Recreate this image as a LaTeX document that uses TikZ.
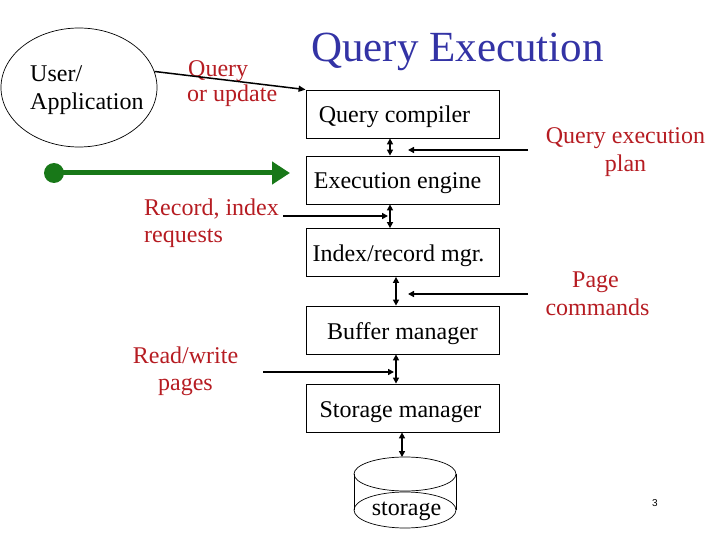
\documentclass[tikz,border=0pt]{standalone}
\usepackage{fontspec}
\setmainfont{Liberation Serif}
\newfontfamily\numfont{Liberation Sans}
\usetikzlibrary{arrows.meta,shapes.geometric}
\definecolor{lblred}{RGB}{182,28,34}
\definecolor{titleblue}{RGB}{51,51,165}
\definecolor{flowgreen}{RGB}{24,120,24}
\begin{document}
\begin{tikzpicture}[x=1pt,y=-1pt,
  every node/.style={font=\fontsize{24}{28}\selectfont},
  box/.style={draw, line width=0.8pt, minimum width=193pt, minimum height=48pt, inner sep=0pt, text height=22pt, text depth=4pt},
  txt/.style={inner sep=0pt, anchor=base},
  lbl/.style={txt, text=lblred},
  link/.style={line width=1.8pt, -{Triangle[length=6pt,width=6pt]}},
  dlink/.style={line width=1.8pt, {Triangle[length=6pt,width=6pt]}-{Triangle[length=6pt,width=6pt]}},
]
\useasboundingbox (0,0) rectangle (720,540);
% title
\node[txt, anchor=base west, text=titleblue, font=\fontsize{43}{50}\selectfont] (title) at (311,62) {Query Execution};
% user
\node[draw, ellipse, line width=0.7pt, minimum width=156pt, minimum height=119pt, inner sep=0pt] (user) at (79,87.5) {};
\node[txt, anchor=base west] (userA) at (30,82) {User/};
\node[txt, anchor=base west] (userB) at (30,110) {Application};
% boxes
\node[box] (qc) at (402.5,114) {Query compiler\hspace*{16pt}};
\node[box] (ee) at (402.5,180) {Execution engine\hspace*{10pt}};
\node[box] (ir) at (402.5,252.5) {Index/record mgr.\hspace*{8pt}};
\node[box] (bm) at (402.5,330) {Buffer manager};
\node[box] (sm) at (402.5,408) {Storage manager\hspace*{4pt}};
% labels
\node[lbl, anchor=base west] (qu1) at (188,77) {Query};
\node[lbl, anchor=base west] (qu2) at (187,102) {or update};
\node[lbl, anchor=base west] (ri1) at (144,215) {Record, index};
\node[lbl, anchor=base west] (ri2) at (144,243) {requests};
\node[lbl] (rw1) at (185.5,363) {Read/write};
\node[lbl] (rw2) at (185.5,390) {pages};
\node[lbl] (qe1) at (625.5,144) {Query execution};
\node[lbl] (qe2) at (625.5,172) {plan};
\node[lbl] (pc1) at (595.5,287) {Page};
\node[lbl] (pc2) at (597.5,315) {commands};
% user arrow
\draw[line width=1.5pt, -{Triangle[length=7pt,width=6pt]}] (user.12) -- (qc.north west);
% green arrow
\node[circle, fill=flowgreen, minimum size=20pt, inner sep=0pt] (gdot) at (54,173) {};
\coordinate (gtip) at (290,173);
\draw[flowgreen, line width=5pt, -{Triangle[length=18pt,width=22pt]}] (gdot.center) -- (gtip);
% vertical double arrows
\draw[dlink] ([xshift=-12.5pt]qc.south) -- ([xshift=-12.5pt]ee.north);
\draw[dlink] ([xshift=-12.5pt]ee.south) -- ([xshift=-12.5pt]ir.north);
\draw[dlink] ([xshift=-6.5pt]ir.south) -- ([xshift=-6.5pt]bm.north);
\draw[dlink] ([xshift=-6.5pt]bm.south) -- ([xshift=-6.5pt]sm.north);
% horizontal arrows
\coordinate (qeps) at (528,150); \coordinate (qepe) at (408,150);
\draw[link] (qeps) -- (qepe);
\coordinate (ris) at (283,216); \coordinate (rie) at (388,216);
\draw[link] (ris) -- (rie);
\coordinate (pcs) at (528,294); \coordinate (pce) at (408,294);
\draw[link] (pcs) -- (pce);
\coordinate (rws) at (263,372); \coordinate (rwe) at (394,372);
\draw[link] (rws) -- (rwe);
% storage cylinder
\draw[line width=0.7pt] (354,474) -- (354,510) (456,474) -- (456,510);
\draw[line width=0.7pt] (405,474) ellipse [x radius=51pt, y radius=17pt];
\draw[line width=0.7pt] (405,510) ellipse [x radius=51pt, y radius=18pt];
\node[txt] (stor) at (406.5,515) {storage};
\coordinate (cyltop) at (402,457);
\draw[dlink] ([xshift=-0.5pt]sm.south) -- (cyltop);
% page number
\node[txt, font=\numfont\fontsize{10}{12}\selectfont] (pagenum) at (655,506) {3};
\end{tikzpicture}
\end{document}
